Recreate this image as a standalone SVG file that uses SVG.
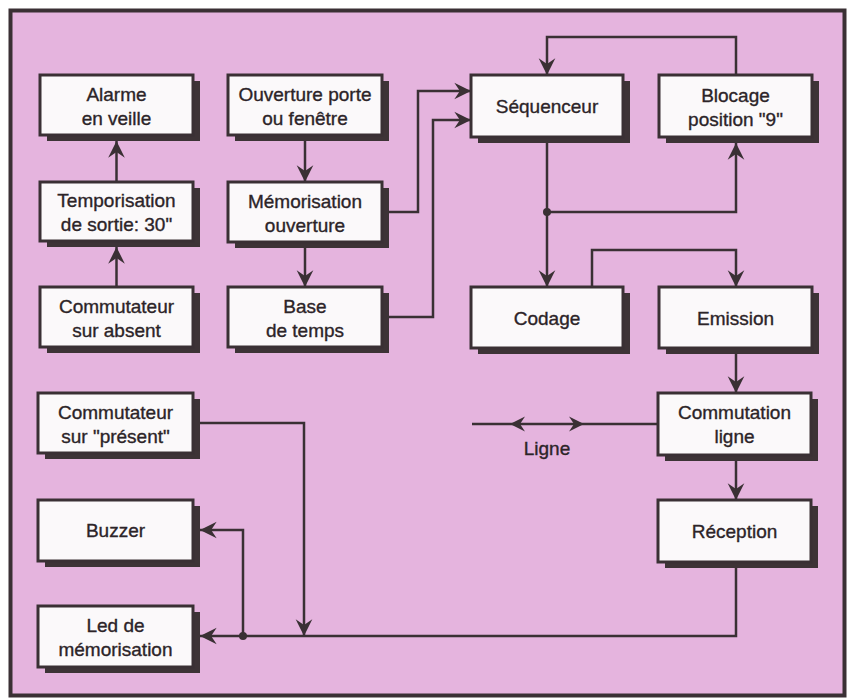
<svg xmlns="http://www.w3.org/2000/svg" width="847" height="699" viewBox="0 0 847 699">
<defs>
<style>
.bg{fill:#e5b4de;stroke:#3a3034;stroke-width:4}
.sh{fill:#3d3336}
.bx{fill:#fbf9fa;stroke:#3a3034;stroke-width:3}
.t{font-family:"Liberation Sans",Arial,sans-serif;font-size:19px;fill:#2c2428;stroke:#2c2428;stroke-width:0.35;text-anchor:middle}
.c{fill:none;stroke:#3a3034;stroke-width:2.5}
.ah{fill:#3a3034}
</style>
<marker id="arr" markerUnits="userSpaceOnUse" markerWidth="20" markerHeight="20" viewBox="-16 -9 18 18" refX="0" refY="0" orient="auto">
<path d="M-15,-7.5 L0,0 L-15,7.5 L-10,0 Z" fill="#3a3034"/>
</marker>
</defs>
<rect x="0" y="0" width="847" height="699" fill="#ffffff"/>
<rect class="bg" x="10.5" y="10.5" width="834" height="685"/>

<g id="connectors">
<path class="c" d="M116.5,287 V247" marker-end="url(#arr)"/>
<path class="c" d="M116.5,182 V141" marker-end="url(#arr)"/>
<path class="c" d="M305,141 V182" marker-end="url(#arr)"/>
<path class="c" d="M305,248 V287" marker-end="url(#arr)"/>
<path class="c" d="M389,212 H418 V91 H471" marker-end="url(#arr)"/>
<path class="c" d="M389,317 H433 V120 H471" marker-end="url(#arr)"/>
<path class="c" d="M547,143 V287" marker-end="url(#arr)"/>
<path class="c" d="M547,212 H736 V143" marker-end="url(#arr)"/>
<path class="c" d="M736,75 V37 H547 V75" marker-end="url(#arr)"/>
<path class="c" d="M592,287 V250 H736 V287" marker-end="url(#arr)"/>
<path class="c" d="M736,354 V393" marker-end="url(#arr)"/>
<path class="c" d="M736,461 V500" marker-end="url(#arr)"/>
<path class="c" d="M736,568 V636 H200" marker-end="url(#arr)"/>
<path class="c" d="M243,636 V530 H200" marker-end="url(#arr)"/>
<path class="c" d="M200,423 H304 V636" marker-end="url(#arr)"/>
<circle class="ah" cx="547" cy="212" r="4"/>
<circle class="ah" cx="243" cy="636" r="4"/>
<path class="c" d="M472,424 H658"/>
<path class="ah" d="M510,424 L525,416.5 L520,424 L525,431.5 Z"/>
<path class="ah" d="M584,424 L569,416.5 L574,424 L569,431.5 Z"/>
<text class="t" x="547" y="455">Ligne</text>
</g>

<g id="alarme">
<rect class="sh" x="47" y="81" width="153" height="60"/>
<rect class="bx" x="40" y="75" width="153" height="60"/>
<text class="t" x="116.5" y="101">Alarme<tspan x="116.5" dy="23.5">en veille</tspan></text>
</g>
<g id="temporisation">
<rect class="sh" x="47" y="188" width="153" height="59"/>
<rect class="bx" x="40" y="182" width="153" height="59"/>
<text class="t" x="116.5" y="207">Temporisation<tspan x="116.5" dy="23.5">de sortie: 30"</tspan></text>
</g>
<g id="commutateur-absent">
<rect class="sh" x="47" y="293" width="153" height="60"/>
<rect class="bx" x="40" y="287" width="153" height="60"/>
<text class="t" x="116.5" y="313">Commutateur<tspan x="116.5" dy="23.5">sur absent</tspan></text>
</g>
<g id="ouverture">
<rect class="sh" x="235" y="81" width="154" height="60"/>
<rect class="bx" x="228" y="75" width="154" height="60"/>
<text class="t" x="305" y="101">Ouverture porte<tspan x="305" dy="23.5">ou fenêtre</tspan></text>
</g>
<g id="memorisation">
<rect class="sh" x="235" y="188" width="154" height="60"/>
<rect class="bx" x="228" y="182" width="154" height="60"/>
<text class="t" x="305" y="208">Mémorisation<tspan x="305" dy="23.5">ouverture</tspan></text>
</g>
<g id="base-temps">
<rect class="sh" x="235" y="293" width="154" height="60"/>
<rect class="bx" x="228" y="287" width="154" height="60"/>
<text class="t" x="305" y="313">Base<tspan x="305" dy="23.5">de temps</tspan></text>
</g>
<g id="sequenceur">
<rect class="sh" x="478" y="81" width="152" height="62"/>
<rect class="bx" x="471" y="75" width="152" height="62"/>
<text class="t" x="547" y="113">Séquenceur</text>
</g>
<g id="blocage">
<rect class="sh" x="666" y="81" width="153" height="62"/>
<rect class="bx" x="659" y="75" width="153" height="62"/>
<text class="t" x="735.5" y="102">Blocage<tspan x="735.5" dy="23.5">position "9"</tspan></text>
</g>
<g id="codage">
<rect class="sh" x="478" y="293" width="152" height="61"/>
<rect class="bx" x="471" y="287" width="152" height="61"/>
<text class="t" x="547" y="325">Codage</text>
</g>
<g id="emission">
<rect class="sh" x="666" y="293" width="153" height="61"/>
<rect class="bx" x="659" y="287" width="153" height="61"/>
<text class="t" x="735.5" y="325">Emission</text>
</g>
<g id="commutation-ligne">
<rect class="sh" x="665" y="399" width="153" height="62"/>
<rect class="bx" x="658" y="393" width="153" height="62"/>
<text class="t" x="734.5" y="419">Commutation<tspan x="734.5" dy="23.5">ligne</tspan></text>
</g>
<g id="reception">
<rect class="sh" x="665" y="506" width="153" height="62"/>
<rect class="bx" x="658" y="500" width="153" height="62"/>
<text class="t" x="734.5" y="538">Réception</text>
</g>
<g id="commutateur-present">
<rect class="sh" x="45" y="399" width="155" height="60"/>
<rect class="bx" x="38" y="393" width="155" height="60"/>
<text class="t" x="115.5" y="419">Commutateur<tspan x="115.5" dy="23.5">sur "présent"</tspan></text>
</g>
<g id="buzzer">
<rect class="sh" x="45" y="506" width="155" height="61"/>
<rect class="bx" x="38" y="500" width="155" height="61"/>
<text class="t" x="115.5" y="537">Buzzer</text>
</g>
<g id="led">
<rect class="sh" x="45" y="612" width="155" height="61"/>
<rect class="bx" x="38" y="606" width="155" height="61"/>
<text class="t" x="115.5" y="632">Led de<tspan x="115.5" dy="23.5">mémorisation</tspan></text>
</g>
</svg>
